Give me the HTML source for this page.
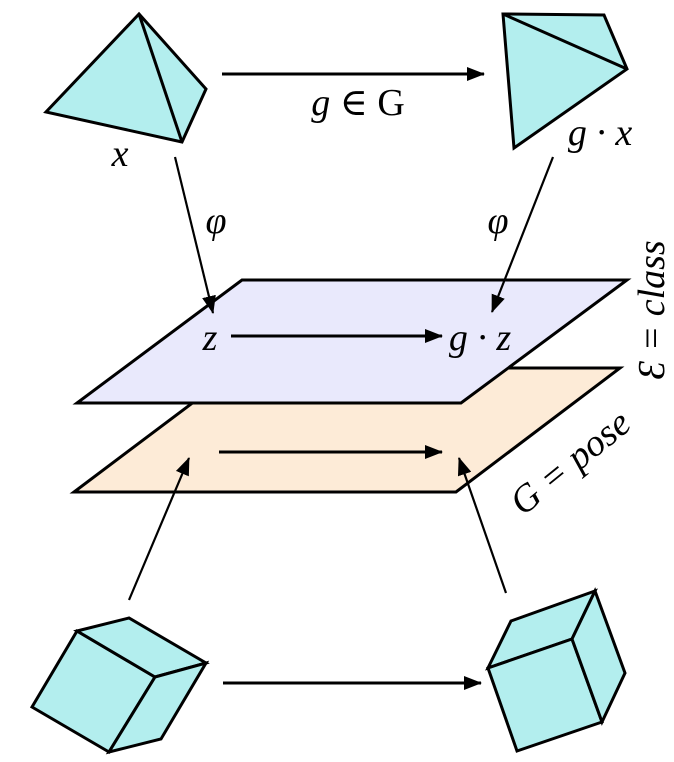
<!DOCTYPE html>
<html><head><meta charset="utf-8"><style>
html,body{margin:0;padding:0;background:#fff;}
svg{display:block}
</style></head><body>
<svg width="674" height="762" viewBox="0 0 674 762" xmlns="http://www.w3.org/2000/svg">
<defs>
<marker id="ah2" markerWidth="18" markerHeight="14" refX="17" refY="7" orient="auto" markerUnits="userSpaceOnUse">
<path d="M0,0 L18,7 L0,14 z" fill="#000"/>
</marker>
</defs>
<g stroke="#000" stroke-width="3" stroke-linejoin="miter" fill="#b3eeee">
<polygon points="139,14 46,112 182,142 206,89"/>
<line x1="139" y1="14" x2="182" y2="142"/>
<polygon points="503,14 604,15 627,69 514,148"/>
<line x1="503" y1="14" x2="627" y2="69"/>
<polygon points="239,368 620,368 456,492 74,492" fill="#fdebd7"/>
<polygon points="242,280 627,280 461,403 77,403" fill="#e9e9fc"/>
<polygon points="32,707 77,631 155,677 109,752"/>
<polygon points="77,631 129,618 206,663 155,677"/>
<polygon points="155,677 206,663 161,739 109,752"/>
<polygon points="511,621 595,591 572,639 488,668"/>
<polygon points="488,668 572,639 602,722 517,751"/>
<polygon points="572,639 595,591 625,673 602,722"/>
</g>
<g stroke="#000" stroke-width="3" fill="none">
<line x1="222" y1="74" x2="484" y2="74" marker-end="url(#ah2)"/>
<line x1="223" y1="683" x2="481" y2="683" marker-end="url(#ah2)"/>
<line x1="231" y1="336" x2="442" y2="336" marker-end="url(#ah2)"/>
<line x1="219" y1="452" x2="442" y2="452" marker-end="url(#ah2)"/>
</g>
<g stroke="#000" stroke-width="2.2" fill="none">
<line x1="175" y1="157" x2="213" y2="313" marker-end="url(#ah2)"/>
<line x1="553" y1="157" x2="492" y2="312" marker-end="url(#ah2)"/>
<line x1="129" y1="600" x2="189" y2="458" marker-end="url(#ah2)"/>
<line x1="506" y1="593" x2="459" y2="458" marker-end="url(#ah2)"/>
</g>
<g font-family="Liberation Serif, DejaVu Serif, serif" font-style="italic" font-size="38" fill="#000">
<text x="358" y="115" text-anchor="middle">g ∈ <tspan font-style="normal">G</tspan></text>
<text x="120" y="166" text-anchor="middle">x</text>
<text x="600" y="145" text-anchor="middle">g · x</text>
<text x="216" y="233" text-anchor="middle">φ</text>
<text x="498" y="233" text-anchor="middle">φ</text>
<text x="210" y="350" text-anchor="middle">z</text>
<text x="480" y="350" text-anchor="middle">g · z</text>
<text transform="translate(664,310) rotate(-90)" text-anchor="middle">Ɛ = class</text>
<text transform="translate(578,472) rotate(-39)" text-anchor="middle">G = pose</text>
</g>
</svg>
</body></html>
